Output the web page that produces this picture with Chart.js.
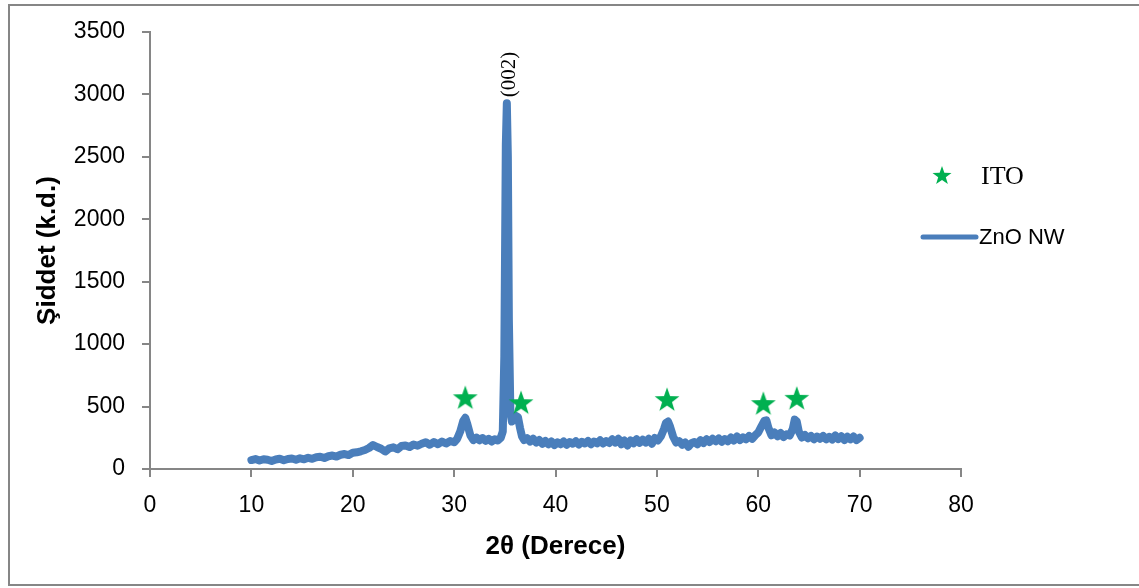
<!DOCTYPE html>
<html>
<head>
<meta charset="utf-8">
<script src="https://cdn.jsdelivr.net/npm/chart.js@4/dist/chart.umd.min.js"></script>
<style>
  html, body { margin: 0; padding: 0; background: #fff; }
  #wrap { width: 1139px; height: 588px; }
</style>
</head>
<body>
<div id="wrap"><canvas id="xrdChart" width="1139" height="588"></canvas></div>
<script>
// XRD pattern of ZnO nanowires on ITO
var twoTheta = [
  10.0, 10.4, 10.8, 11.2, 11.6, 12.0, 12.4, 12.8, 13.2, 13.6, 14.0, 14.4, 14.8, 15.2, 15.6,
  16.0, 16.4, 16.8, 17.2, 17.6, 18.0, 18.4, 18.8, 19.2, 19.6, 20.0, 20.4, 20.8, 21.2, 21.6,
  22.0, 22.4, 22.8, 23.2, 23.6, 24.0, 24.4, 24.8, 25.2, 25.6, 26.0, 26.4, 26.8, 27.2, 27.6,
  28.0, 28.4, 28.8, 29.2, 29.6, 30.0, 30.3, 30.6, 30.9, 31.1, 31.3, 31.6, 31.9, 32.2, 32.5,
  32.8, 33.1, 33.4, 33.7, 34.0, 34.3, 34.6, 34.8, 34.95, 35.1, 35.2, 35.3, 35.4, 35.55, 35.7,
  35.9, 36.1, 36.3, 36.5, 36.7, 36.9, 37.2, 37.5, 37.8, 38.1, 38.4, 38.7, 39.0, 39.3, 39.6,
  39.9, 40.2, 40.5, 40.8, 41.1, 41.4, 41.7, 42.0, 42.3, 42.6, 42.9, 43.2, 43.5, 43.8, 44.1,
  44.4, 44.7, 45.0, 45.3, 45.6, 45.9, 46.2, 46.5, 46.8, 47.1, 47.4, 47.7, 48.0, 48.3, 48.6,
  48.9, 49.2, 49.5, 49.8, 50.1, 50.4, 50.7, 50.9, 51.1, 51.3, 51.6, 51.9, 52.2, 52.5, 52.8,
  53.1, 53.4, 53.7, 54.0, 54.3, 54.6, 54.9, 55.2, 55.5, 55.8, 56.1, 56.4, 56.7, 57.0, 57.3,
  57.6, 57.9, 58.2, 58.5, 58.8, 59.1, 59.4, 59.7, 60.0, 60.3, 60.6, 60.8, 61.0, 61.3, 61.6,
  61.9, 62.2, 62.5, 62.8, 63.1, 63.4, 63.6, 63.8, 64.0, 64.3, 64.6, 64.9, 65.2, 65.5, 65.8,
  66.1, 66.4, 66.7, 67.0, 67.3, 67.6, 67.9, 68.2, 68.5, 68.8, 69.1, 69.4, 69.7, 70.0
];
var intensity = [
  72, 80, 68, 78, 74, 64, 76, 82, 70, 80, 84, 74, 86, 78, 90,
  82, 94, 98, 88, 102, 108, 100, 114, 120, 112, 130, 134, 142, 152, 168,
  192, 176, 162, 140, 166, 174, 158, 184, 188, 176, 196, 186, 202, 214, 194,
  216, 198, 220, 204, 224, 214, 242, 300, 385, 410, 360, 270, 232, 252, 230,
  248, 226, 242, 220, 238, 228, 250, 300, 900, 2600, 2930, 2500, 1200, 450, 380,
  410, 425, 415, 330, 260, 232, 248, 220, 242, 212, 232, 202, 224, 198, 220,
  192, 214, 198, 220, 194, 216, 202, 222, 196, 218, 204, 224, 198, 220, 206,
  230, 204, 224, 208, 238, 212, 242, 198, 228, 188, 228, 206, 238, 210, 234,
  212, 242, 202, 248, 228, 262, 320, 370, 380, 340, 260, 212, 224, 194, 212,
  178, 206, 216, 198, 230, 208, 238, 216, 242, 222, 244, 218, 240, 222, 252,
  228, 260, 232, 254, 238, 264, 242, 270, 292, 340, 385, 390, 330, 270, 292,
  262, 288, 256, 278, 268, 320, 395, 380, 300, 252, 272, 246, 264, 238, 260,
  242, 264, 238, 258, 236, 268, 240, 262, 232, 258, 238, 260, 232, 250
];

// ITO reflections marked with stars
var itoTheta = [31.1, 36.6, 51.0, 60.5, 63.8];
var itoMark = [575, 535, 560, 528, 570];

var xTicks = [0, 10, 20, 30, 40, 50, 60, 70, 80];
var yTicks = [0, 500, 1000, 1500, 2000, 2500, 3000, 3500];

var lineColor = '#4a7ebb';
var starColor = '#00b050';
var axisGray = '#868686';

function makeStar(size, color) {
  var c = document.createElement('canvas');
  c.width = size; c.height = size;
  var g = c.getContext('2d');
  var cx = size / 2, cy = size / 2 + size * 0.05;
  var outer = size / 2, inner = outer * 0.4;
  g.beginPath();
  for (var i = 0; i < 10; i++) {
    var r = i % 2 === 0 ? outer : inner;
    var a = -Math.PI / 2 + i * Math.PI / 5;
    var px = cx + r * Math.cos(a), py = cy + r * Math.sin(a);
    if (i === 0) g.moveTo(px, py); else g.lineTo(px, py);
  }
  g.closePath();
  g.fillStyle = color;
  g.fill();
  return c;
}
var starImg = makeStar(26, starColor);
var legendStar = makeStar(20, starColor);

var zno = twoTheta.map(function (t, i) { return { x: t, y: intensity[i] }; });
var ito = itoTheta.map(function (t, i) { return { x: t, y: itoMark[i] }; });

// frame, legend and (002) label
var extras = {
  id: 'extras',
  beforeDraw: function (chart) {
    var ctx = chart.ctx;
    ctx.save();
    ctx.fillStyle = '#fff';
    ctx.fillRect(0, 0, chart.width, chart.height);
    ctx.restore();
  },
  afterDraw: function (chart) {
    var ctx = chart.ctx;
    var xs = chart.scales.x, ys = chart.scales.y;
    ctx.save();
    ctx.strokeStyle = axisGray;
    ctx.lineWidth = 2;
    ctx.strokeRect(9, 5, 1140, 580);

    // peak label, read bottom to top
    var px = xs.getPixelForValue(35.2);
    var py = ys.getPixelForValue(2930);
    ctx.translate(px + 3, py - 6);
    ctx.rotate(-Math.PI / 2);
    ctx.fillStyle = '#000';
    ctx.font = '21px "Liberation Serif"';
    ctx.textAlign = 'left';
    ctx.textBaseline = 'middle';
    ctx.fillText('(002)', 0, 0);
    ctx.restore();

    // legend
    ctx.save();
    ctx.drawImage(legendStar, 932, 165);
    ctx.fillStyle = '#000';
    ctx.textBaseline = 'middle';
    ctx.font = '26px "Liberation Serif"';
    ctx.fillText('ITO', 981, 177);
    ctx.strokeStyle = lineColor;
    ctx.lineWidth = 5;
    ctx.lineCap = 'round';
    ctx.beginPath();
    ctx.moveTo(923, 237);
    ctx.lineTo(976, 237);
    ctx.stroke();
    ctx.font = '22px "Liberation Sans"';
    ctx.fillText('ZnO NW', 979, 238);
    ctx.restore();
  }
};

var tickFont = { family: '"Liberation Sans", Arial, sans-serif', size: 23 };
var titleFont = { family: '"Liberation Sans", Arial, sans-serif', size: 26, weight: 'bold' };

new Chart(document.getElementById('xrdChart'), {
  type: 'scatter',
  data: {
    datasets: [
      {
        label: 'ZnO NW',
        data: zno,
        showLine: true,
        borderColor: lineColor,
        backgroundColor: lineColor,
        borderWidth: 8,
        pointRadius: 0,
        tension: 0,
        borderJoinStyle: 'round',
        borderCapStyle: 'round',
        order: 2
      },
      {
        label: 'ITO',
        data: ito,
        pointStyle: starImg,
        pointRadius: 13,
        showLine: false,
        order: 1
      }
    ]
  },
  options: {
    responsive: false,
    animation: false,
    layout: { padding: { left: 0, top: 32, right: 178, bottom: 0 } },
    plugins: { legend: { display: false }, tooltip: { enabled: false } },
    scales: {
      x: {
        type: 'linear',
        min: 0, max: 80,
        afterBuildTicks: function (s) { s.ticks = xTicks.map(function (v) { return { value: v }; }); },
        afterFit: function (s) { s.height = 119; },
        border: { color: axisGray, width: 2 },
        grid: { drawOnChartArea: false, color: axisGray, tickLength: 8, lineWidth: 2 },
        ticks: { color: '#000', font: tickFont, padding: 15, maxRotation: 0, callback: function (v) { return String(v); } },
        title: { display: true, text: '2θ (Derece)', color: '#000', font: titleFont, padding: { top: 0, bottom: 26 } }
      },
      y: {
        min: 0, max: 3500,
        afterBuildTicks: function (s) { s.ticks = yTicks.map(function (v) { return { value: v }; }); },
        afterFit: function (s) { s.width = 150; },
        border: { color: axisGray, width: 2 },
        grid: { drawOnChartArea: false, color: axisGray, tickLength: 8, lineWidth: 2 },
        ticks: { color: '#000', font: tickFont, padding: 17, callback: function (v) { return String(v); } },
        title: { display: true, text: 'Şiddet (k.d.)', color: '#000', font: titleFont, padding: { top: 32, bottom: 0 } }
      }
    }
  },
  plugins: [extras]
});
</script>
</body>
</html>
